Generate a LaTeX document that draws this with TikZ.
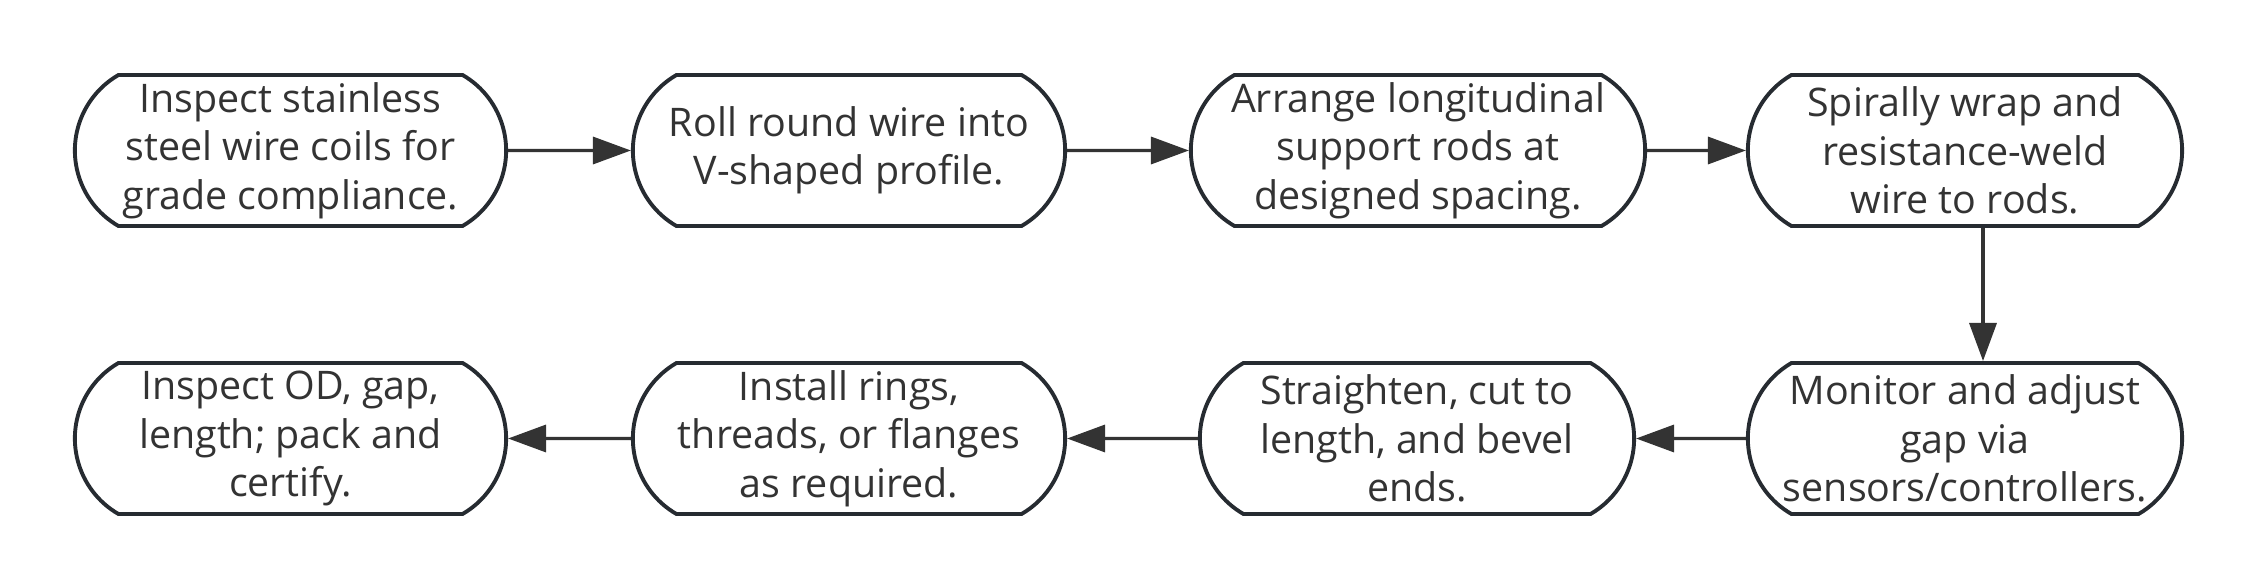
\documentclass[tikz,border=0pt]{standalone}
\usepackage{fontspec}
\usepackage{xcolor}
\usepackage{tikz}
\usetikzlibrary{shapes.misc}
\usetikzlibrary{arrows.meta}
\newfontfamily\boxfont{Open Sans}
\definecolor{edgegray}{HTML}{262B31}
\definecolor{textgray}{HTML}{333333}

\begin{document}
\begin{tikzpicture}[x=0.01cm, y=-0.01cm,
    stepbox/.style = {rounded rectangle,
    rounded rectangle arc length = 120,
    draw = edgegray,
    line width = 1.1pt,
    fill = white,
    text = textgray,
    align = center,
    inner sep = 0pt,
    minimum height = 1.51cm,
    font = \boxfont\fontsize{11.2}{13.75}\selectfont},
    flow/.style = {draw = textgray,
    line width = 0.95pt,
    -{Triangle[length=0.38cm, width=0.27cm]}}]
    \useasboundingbox (0,0) rectangle (2256,588);
    % top row
    \node [stepbox, minimum width = 4.31cm] (inspect) at (290.5,150.5) {Inspect stainless\\steel wire coils for\\grade compliance.};
    \node [stepbox, minimum width = 4.32cm] (roll) at (849,150.5) {Roll round wire into\\V-shaped profile.};
    \node [stepbox, minimum width = 4.54cm] (arrange) at (1418,150.5) {Arrange longitudinal\\support rods at\\designed spacing.};
    \node [stepbox, minimum width = 4.34cm] (weld) at (1965,150.5) {Spirally wrap and\\resistance-weld\\wire to rods.};
    % bottom row
    \node [stepbox, minimum width = 4.34cm] (monitor) at (1965,438.5) {Monitor and adjust\\gap via\\sensors/controllers.};
    \node [stepbox, minimum width = 4.34cm] (cut) at (1417,438.5) {Straighten, cut to\\length, and bevel\\ends.};
    \node [stepbox, minimum width = 4.32cm] (rings) at (849,438.5) {Install rings,\\threads, or flanges\\as required.};
    \node [stepbox, minimum width = 4.31cm] (certify) at (290.5,438.5) {Inspect OD, gap,\\length; pack and\\certify.};
    % connectors
    \draw [flow] (inspect) -- (roll);
    \draw [flow] (roll) -- (arrange);
    \draw [flow] (arrange) -- (weld);
    \draw [flow] ([xshift=0.18cm]weld.south) -- ([xshift=0.18cm]monitor.north);
    \draw [flow] (monitor) -- (cut);
    \draw [flow] (cut) -- (rings);
    \draw [flow] (rings) -- (certify);
\end{tikzpicture}
\end{document}
